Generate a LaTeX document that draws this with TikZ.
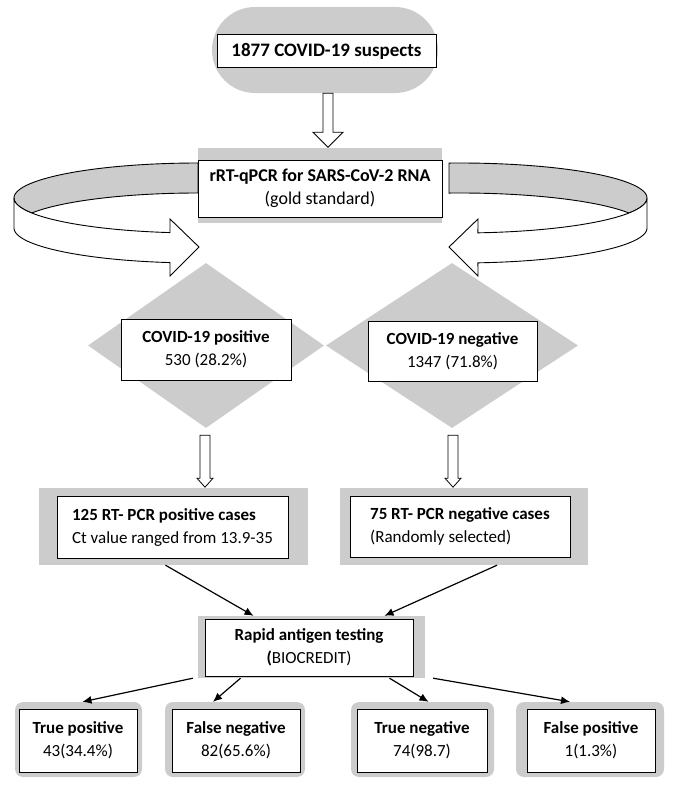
\documentclass[tikz,border=0pt]{standalone}
\usepackage{fontspec}
\setmainfont{Carlito}
\usetikzlibrary{shapes.geometric,arrows.meta}

\begin{document}
\begin{tikzpicture}[
  x=1pt, y=-1pt,
  >={Latex[length=9pt,width=8pt]},
  every node/.style={font=\fontsize{17}{23}\selectfont},
  graybg/.style={fill=black!20, draw=none, inner sep=0pt},
  whitebox/.style={draw, fill=white, line width=1pt, inner sep=0pt, align=center},
  hollow/.style={draw, fill=white, line width=0.8pt, line join=miter},
  ribbonback/.style={draw, fill=black!20, line width=0.9pt},
  ribbonfront/.style={draw, fill=white, line width=0.9pt, line join=miter},
  link/.style={->, line width=1.2pt}]
\useasboundingbox (0,0) rectangle (675,800);

% diamonds
\node[diamond, graybg, minimum width=236pt, minimum height=165pt] (posdia) at (206,345.5) {};
\node[diamond, graybg, minimum width=252pt, minimum height=165pt] (negdia) at (452,345.5) {};

% curved arrows round the test box
\filldraw[ribbonback] plot[domain=90:205.4, samples=50] ({198+184*cos(\x)},{198-35*sin(\x)})
  -- plot[domain=154.6:90, samples=50] ({198+184*cos(\x)},{228-35*sin(\x)}) -- cycle;
\filldraw[ribbonfront] plot[domain=180:261.25, samples=50] ({198+184*cos(\x)},{198-35*sin(\x)})
  -- (170,219) -- (199,247) -- (170,276)
  -- plot[domain=261.25:180, samples=50] ({198+184*cos(\x)},{228-35*sin(\x)}) -- cycle;
\filldraw[ribbonback] plot[domain=93.37:-25.4, samples=50] ({460+187*cos(\x)},{198-35*sin(\x)})
  -- plot[domain=25.4:93.37, samples=50] ({460+187*cos(\x)},{228-35*sin(\x)}) -- cycle;
\filldraw[ribbonfront] plot[domain=0:-84.5, samples=50] ({460+187*cos(\x)},{198-35*sin(\x)})
  -- (478,219) -- (449,247) -- (478,276)
  -- plot[domain=-84.5:0, samples=50] ({460+187*cos(\x)},{228-35*sin(\x)}) -- cycle;

% boxes
\node[graybg, rounded corners=43pt, minimum width=226pt, minimum height=86pt] (topbg) at (325,50) {};
\node[whitebox, minimum width=219pt, minimum height=33pt, font=\fontsize{19}{23}\selectfont] (suspects) at (326.5,51.5) {\textbf{1877 COVID-19 suspects}};

\node[graybg, minimum width=244pt, minimum height=75pt] (rrtbg) at (320,185.5) {};
\node[whitebox, minimum width=244pt, minimum height=57pt, font=\fontsize{18}{23}\selectfont] (rrt) at (320,188.5) {\textbf{rRT-qPCR for SARS-CoV-2 RNA}\\(gold standard)};

\node[whitebox, minimum width=170pt, minimum height=61pt] (pos) at (206,349.5) {\textbf{COVID-19 positive}\\530 (28.2\%)};
\node[whitebox, minimum width=169pt, minimum height=60pt] (neg) at (452.5,351) {\textbf{COVID-19 negative}\\1347 (71.8\%)};

\node[graybg, minimum width=269pt, minimum height=77pt] (posbg) at (173.5,526.5) {};
\node[whitebox, minimum width=231pt, minimum height=62pt, align=left] (poscases) at (172.5,527) {\textbf{125 RT- PCR positive cases}\\Ct value ranged from 13.9-35};
\node[graybg, minimum width=248pt, minimum height=77pt] (negbg) at (464,526.5) {};
\node[whitebox, minimum width=220pt, minimum height=61pt, align=left] (negcases) at (460,526.5) {\textbf{75 RT- PCR negative cases}\\(Randomly selected)};

\node[graybg, minimum width=227pt, minimum height=62pt] (rapidbg) at (311.5,647) {};
\node[whitebox, minimum width=208pt, minimum height=57pt] (rapid) at (309,647.5) {\textbf{Rapid antigen testing}\\\textbf{(}BIOCREDIT)};

\node[graybg, rounded corners=8pt, minimum width=127pt, minimum height=75pt] (tpbg) at (78.5,739.5) {};
\node[whitebox, minimum width=118pt, minimum height=63pt] (tp) at (78,740.5) {\textbf{True positive}\\43(34.4\%)};
\node[graybg, rounded corners=8pt, minimum width=140pt, minimum height=75pt] (fnbg) at (235,739.5) {};
\node[whitebox, minimum width=128pt, minimum height=63pt] (fn) at (236,740.5) {\textbf{False negative}\\82(65.6\%)};
\node[graybg, rounded corners=8pt, minimum width=143pt, minimum height=75pt] (tnbg) at (422.5,739.5) {};
\node[whitebox, minimum width=130pt, minimum height=63pt] (tn) at (422,740.5) {\textbf{True negative}\\74(98.7)};
\node[graybg, rounded corners=8pt, minimum width=148pt, minimum height=75pt] (fpbg) at (590,739.5) {};
\node[whitebox, minimum width=128pt, minimum height=63pt] (fp) at (591,740.5) {\textbf{False positive}\\1(1.3\%)};

% block arrows
\draw[hollow] ([xshift=-2pt]topbg.south) -- ++(0,39) -- ++(-10,0) -- ++(15,15) -- ++(15,-15) -- ++(-10,0) -- ++(0,-39) -- cycle;
\draw[hollow] ([shift={(-6,7)}]posdia.south) -- ++(0,43) -- ++(-3,0) -- ++(8,9) -- ++(8,-9) -- ++(-3,0) -- ++(0,-43) -- cycle;
\draw[hollow] ([shift={(-4,7)}]negdia.south) -- ++(0,43) -- ++(-3,0) -- ++(8,9) -- ++(8,-9) -- ++(-3,0) -- ++(0,-43) -- cycle;

% connectors
\draw[link] ([xshift=-8pt]posbg.south) -- ([xshift=-58pt]rapidbg.north);
\draw[link] ([xshift=33pt]negbg.south) -- ([xshift=73pt]rapidbg.north);
\draw[link] ([xshift=-5pt]rapidbg.south west) -- ([xshift=4pt]tpbg.north);
\draw[link] ([xshift=-71pt]rapidbg.south) -- ([xshift=-22pt]fnbg.north);
\draw[link] ([xshift=78pt]rapidbg.south) -- ([xshift=6pt]tnbg.north);
\draw[link] ([xshift=8pt]rapidbg.south east) -- ([xshift=-20pt]fpbg.north);
\end{tikzpicture}
\end{document}
